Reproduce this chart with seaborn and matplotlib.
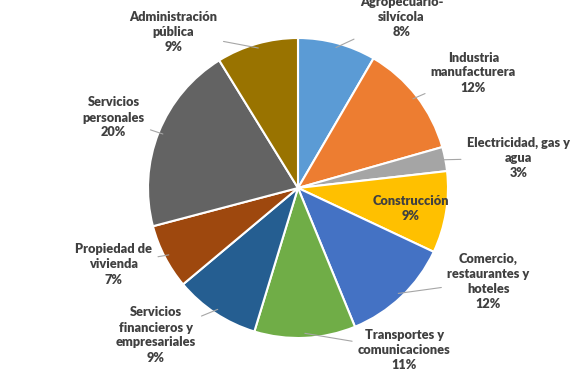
import numpy as np
import matplotlib.pyplot as plt
import seaborn as sns

# Sector shares (%), clockwise from the top
sectors = ["Agropecuario-\nsilvícola", "Industria\nmanufacturera", "Electricidad, gas y\nagua",
           "Construcción", "Comercio,\nrestaurantes y\nhoteles", "Transportes y\ncomunicaciones",
           "Servicios\nfinancieros y\nempresariales", "Propiedad de\nvivienda",
           "Servicios\npersonales", "Administración\npública"]
shares = [8.4, 12.2, 2.6, 8.8, 11.8, 10.9, 9.2, 7.0, 20.3, 8.8]
colors = ["#5B9BD5", "#ED7D31", "#A5A5A5", "#FFC000", "#4472C4",
          "#70AD47", "#255E91", "#9E480E", "#636363", "#997300"]

# label placement (pie radius = 1) - roughly where Excel put them
label_pos = [(0.69, 1.14), (1.17, 0.77), (1.47, 0.20), (0.75, -0.14), (1.27, -0.62),
             (0.71, -1.08), (-0.95, -0.98), (-1.23, -0.51), (-1.23, 0.47), (-0.83, 1.04)]
inside = [False, False, False, True, False, False, False, False, False, False]

sns.set_theme(style="white")
plt.rcParams['font.family'] = ['Lato', 'DejaVu Sans']

fig = plt.figure(figsize=(5.82, 3.81), dpi=100)
ax = fig.add_axes([148 / 582, 43 / 381, 300 / 582, 300 / 381])

wedges, _ = ax.pie(shares, colors=colors, startangle=90, counterclock=False,
                   radius=1, wedgeprops=dict(edgecolor="white", linewidth=1.5))
ax.set_xlim(-1, 1)
ax.set_ylim(-1, 1)
ax.set_aspect("equal")
ax.axis("off")

txt_style = dict(ha="center", va="center", fontsize=9.2, fontweight="heavy",
                 color="#404040", linespacing=1.3)

for w, name, val, pos, ins in zip(wedges, sectors, shares, label_pos, inside):
    txt = f"{name}\n{round(val):.0f}%"
    if ins:
        ax.text(pos[0], pos[1], txt, **txt_style)
        continue
    mid = np.deg2rad((w.theta1 + w.theta2) / 2)
    edge = (0.97 * np.cos(mid), 0.97 * np.sin(mid))
    ax.annotate(txt, xy=edge, xytext=pos, annotation_clip=False,
                arrowprops=dict(arrowstyle="-", color="#A6A6A6", lw=0.8,
                                shrinkA=2, shrinkB=0),
                **txt_style)

fig.savefig("out.png", dpi=100)
